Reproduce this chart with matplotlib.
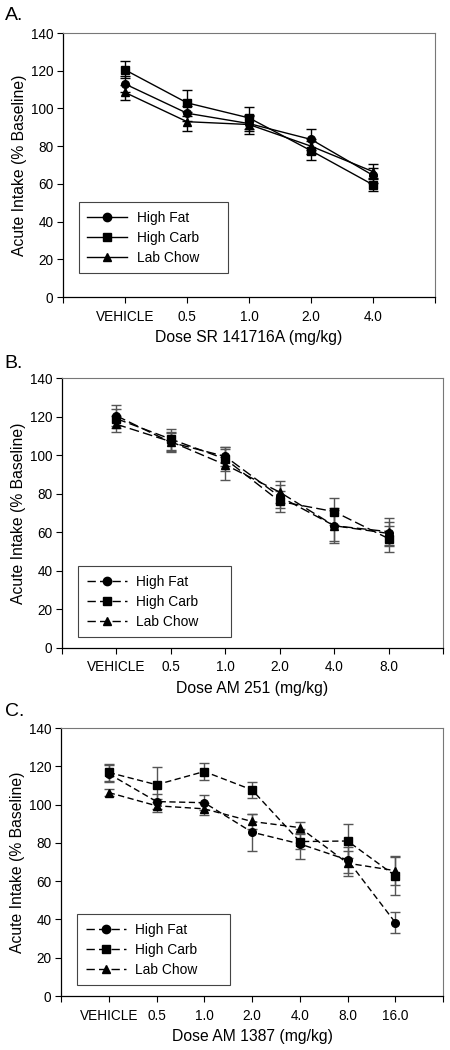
import matplotlib
matplotlib.use("Agg")
import matplotlib.pyplot as plt
from matplotlib.lines import Line2D

plt.rcParams['font.family'] = ['Liberation Sans', 'DejaVu Sans']

series_names = ["High Fat", "High Carb", "Lab Chow"]

# Panel A: SR 141716A
dose_a = ["VEHICLE", "0.5", "1.0", "2.0", "4.0"]
a_fat = [113, 97.5, 92, 83.6, 64.5]
a_fat_err = [4, 4, 4, 5.5, 4]
a_carb = [120.5, 103, 95, 77.6, 59.5]
a_carb_err = [4.5, 7, 6, 5, 3.5]
a_chow = [108.5, 93, 91.5, 80, 66.5]
a_chow_err = [4, 5, 5, 4, 4]

# Panel B: AM 251
dose_b = ["VEHICLE", "0.5", "1.0", "2.0", "4.0", "8.0"]
b_fat = [120.4, 106.6, 99.3, 78.5, 63.4, 59.4]
b_fat_err = [5.4, 5, 5, 6, 8, 6]
b_carb = [118.9, 108.3, 98, 76, 70.7, 56.7]
b_carb_err = [5, 5.4, 6, 5.6, 7, 6.7]
b_chow = [116, 107, 95, 80.8, 63.4, 60.3]
b_chow_err = [4.2, 5, 8, 5.8, 9, 7.3]

# Panel C: AM 1387
dose_c = ["VEHICLE", "0.5", "1.0", "2.0", "4.0", "8.0", "16.0"]
c_fat = [116.1, 101.6, 101, 85.6, 79.5, 71.1, 38.4]
c_fat_err = [4.5, 4, 4, 9.6, 8, 7, 5.5]
c_carb = [116.8, 110.4, 117.3, 107.7, 80.7, 81, 62.8]
c_carb_err = [4.2, 9, 4.5, 4, 4, 9, 10]
c_chow = [106.3, 99.4, 97.8, 91.2, 88, 69.4, 65.5]
c_chow_err = [2, 3.5, 3, 4, 3, 6.5, 7.5]

markers = ['o', 's', '^']

fig = plt.figure(figsize=(4.5, 10.5), dpi=100)

panels = [
    ("A.", [0.14, 0.7171, 0.827, 0.2514], dose_a,
     [(a_fat, a_fat_err), (a_carb, a_carb_err), (a_chow, a_chow_err)],
     "Dose SR 141716A (mg/kg)", None, 'black', (0.01, 0.985), 0.09),
    ("B.", [0.1378, 0.3829, 0.8467, 0.2571], dose_b,
     [(b_fat, b_fat_err), (b_carb, b_carb_err), (b_chow, b_chow_err)],
     "Dose AM 251 (mg/kg)", (7, 3), '#555555', (0.01, 0.654), 0.04),
    ("C.", [0.1356, 0.0514, 0.849, 0.2552], dose_c,
     [(c_fat, c_fat_err), (c_carb, c_carb_err), (c_chow, c_chow_err)],
     "Dose AM 1387 (mg/kg)", (4.5, 2.5), '#555555', (0.01, 0.322), 0.04),
]

for letter, pos, doses, data, xlabel, dashes, ecol, lpos, lbot in panels:
    ax = fig.add_axes(pos)
    n = len(doses)
    x = list(range(n))
    handles = []
    for (vals, errs), mk, name in zip(data, markers, series_names):
        ax.errorbar(x, vals, yerr=errs, fmt='none', ecolor=ecol,
                    elinewidth=1.0, capsize=3.5, capthick=1.0, zorder=2)
        ln, = ax.plot(x, vals, color='black', lw=1.0, marker=mk,
                      markersize=5.5 if mk != '^' else 6,
                      markerfacecolor='black', markeredgecolor='black',
                      zorder=3)
        if dashes is not None:
            ln.set_dashes(dashes)
        h = Line2D([0], [0], color='black', lw=1.0, marker=mk,
                   markersize=6, markerfacecolor='black')
        if dashes is not None:
            h.set_dashes((6, 3))
        handles.append(h)
    ax.set_xlim(-1, n)
    ax.set_ylim(0, 140)
    ax.set_yticks(range(0, 141, 20))
    ax.set_xticks(x)
    ax.set_xticklabels(doses)
    ax.set_xticks([-1, n], minor=True)
    ax.tick_params(which='both', direction='out', length=4, width=0.8,
                   labelsize=9.8, pad=3)
    ax.tick_params(axis='x', which='major', pad=5)
    for side in ['top', 'right']:
        ax.spines[side].set_color('#777777')
        ax.spines[side].set_linewidth(0.8)
    for side in ['left', 'bottom']:
        ax.spines[side].set_linewidth(0.9)
    ax.set_xlabel(xlabel, fontsize=11.3, labelpad=5)
    ax.set_ylabel("Acute Intake (% Baseline)", fontsize=11.3, labelpad=3)
    leg = ax.legend(handles, series_names, loc='lower left',
                    bbox_to_anchor=(0.043, lbot, 0.40, 0.28), mode='expand',
                    fontsize=9.9, handlelength=2.9, handletextpad=0.7,
                    labelspacing=0.45, borderpad=0.6, borderaxespad=0,
                    fancybox=False, framealpha=1, edgecolor='#444444')
    leg.get_frame().set_linewidth(0.8)
    fig.text(lpos[0], lpos[1], letter, fontsize=14, va='center', ha='left')

fig.savefig("out.png", dpi=100)
